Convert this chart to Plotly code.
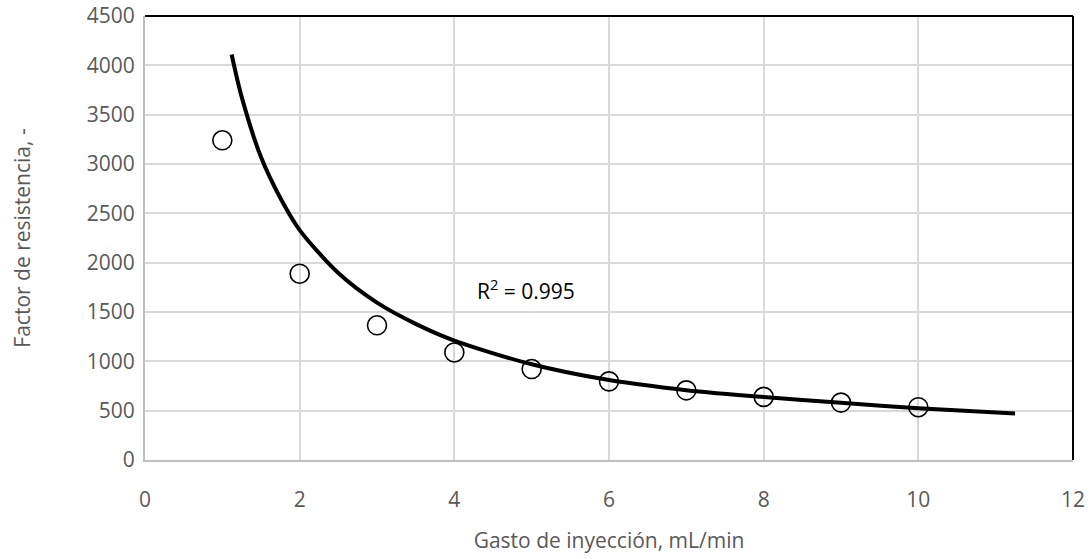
import plotly.graph_objects as go

# Measured points
gasto = [1, 2, 3, 4, 5, 6, 7, 8, 9, 10]
factor = [3240, 1888, 1365, 1090, 922, 797, 706, 640, 582, 535]

# Trend line
trend_x = [1.12, 1.25, 1.5, 1.75, 2, 2.5, 3, 3.5, 4, 5, 6, 7, 8, 9, 10, 11.25]
trend_y = [4110, 3680, 3070, 2655, 2330, 1895, 1595, 1380, 1210, 970, 810, 708, 638, 580, 525, 472]

x_ticks = [0, 2, 4, 6, 8, 10, 12]
y_ticks = [0, 500, 1000, 1500, 2000, 2500, 3000, 3500, 4000, 4500]

FONT = "Open Sans"
GRAY = "#595959"

fig = go.Figure()
fig.add_trace(go.Scatter(
    x=trend_x, y=trend_y, mode="lines",
    line=dict(color="black", width=4, shape="spline", smoothing=0.8),
    hoverinfo="skip", showlegend=False))
fig.add_trace(go.Scatter(
    x=gasto, y=factor, mode="markers",
    marker=dict(symbol="circle-open", size=19, color="black", line=dict(width=1.6, color="black")),
    showlegend=False))

fig.add_annotation(x=4.27, y=1724, xref="x", yref="y", text="R<sup>2</sup> = 0.995",
                   showarrow=False, xanchor="left", yanchor="middle",
                   font=dict(family=FONT, size=21, color="black"))

# top and right borders (black)
fig.add_shape(type="line", xref="paper", yref="paper", x0=0, x1=1, y0=1, y1=1,
              line=dict(color="black", width=2))
fig.add_shape(type="line", xref="paper", yref="paper", x0=1, x1=1, y0=0, y1=1,
              line=dict(color="black", width=2))

fig.update_layout(
    width=1092, height=559,
    margin=dict(l=145, r=19, t=16, b=99, autoexpand=False),
    paper_bgcolor="white", plot_bgcolor="white",
    font=dict(family=FONT, size=21, color=GRAY),
    xaxis=dict(
        range=[0, 12], tickvals=x_ticks, ticktext=[str(v) for v in x_ticks],
        showgrid=True, gridcolor="#d9d9d9", gridwidth=1.5,
        showline=True, linecolor="#bfbfbf", linewidth=2,
        zeroline=False, ticks="", ticklabelstandoff=20, automargin=False,
        tickfont=dict(family=FONT, size=21, color=GRAY),
        title=dict(text="Gasto de inyección, mL/min", standoff=21,
                   font=dict(family=FONT, size=21, color=GRAY)),
    ),
    yaxis=dict(
        range=[0, 4500], tickvals=y_ticks, ticktext=[str(v) for v in y_ticks],
        showgrid=True, gridcolor="#d9d9d9", gridwidth=1.5,
        showline=True, linecolor="#bfbfbf", linewidth=2,
        zeroline=False, ticks="", ticklabelstandoff=4, automargin=False,
        tickfont=dict(family=FONT, size=21, color=GRAY),
        title=dict(text="Factor de resistencia, -", standoff=50,
                   font=dict(family=FONT, size=21, color=GRAY)),
    ),
)

fig.write_html("out.html")
